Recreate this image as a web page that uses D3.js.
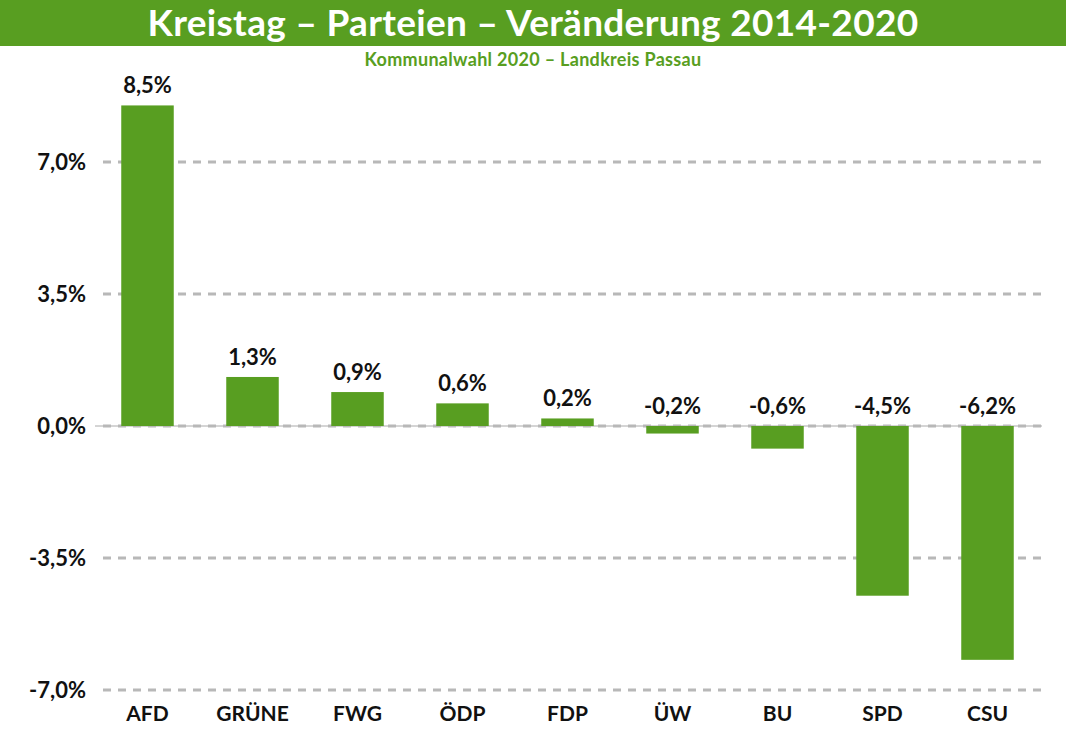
<!DOCTYPE html>
<html><head><meta charset="utf-8">
<script src="https://cdn.jsdelivr.net/npm/d3@7"></script>
<style>body{margin:0;background:#fff}svg{display:block;font-family:Lato,"Open Sans",sans-serif}</style>
</head><body><svg id="c" width="1066" height="736"></svg>
<script>
const categories = ["AFD","GRÜNE","FWG","ÖDP","FDP","ÜW","BU","SPD","CSU"];
const values = [8.5,1.3,0.9,0.6,0.2,-0.2,-0.6,-4.5,-6.2];
const tickValues = [-7,-3.5,0,3.5,7];
const title = "Kreistag – Parteien – Veränderung 2014-2020";
const subtitle = "Kommunalwahl 2020 – Landkreis Passau";

const green = "#589e21";
const svg = d3.select("#c");
const fmt = v => d3.format(".1f")(v).replace("\u2212", "-").replace(".", ",") + "%";

svg.append("rect").attr("x",0).attr("y",0).attr("width",1066).attr("height",46).attr("fill",green);
svg.append("text").attr("x",533).attr("y",36).attr("text-anchor","middle")
  .attr("fill","#fff").attr("font-size",37).attr("font-weight",700).attr("letter-spacing",0.3).text(title);
svg.append("text").attr("x",533).attr("y",66).attr("text-anchor","middle")
  .attr("fill",green).attr("font-size",18).attr("font-weight",700).attr("letter-spacing",0.3).text(subtitle);

const x = d3.scaleBand().domain(categories).range([95,1040]).paddingInner(0.5).paddingOuter(0.25);
const y = d3.scaleLinear().domain([-7,7]).range([690,162]);

// zero solid line
svg.append("line").attr("x1",95).attr("x2",1042).attr("y1",y(0)).attr("y2",y(0))
  .attr("stroke","#aaa").attr("stroke-width",1);
// gridlines
svg.append("g").selectAll("line").data(tickValues).join("line")
  .attr("x1",103).attr("x2",1042).attr("y1",d=>y(d)).attr("y2",d=>y(d))
  .attr("stroke","#b8b8b8").attr("stroke-width",3).attr("stroke-dasharray","8,7");

// y axis labels
const yAxis = d3.axisLeft(y).tickValues(tickValues).tickFormat(fmt).tickSize(0).tickPadding(0);
const gy = svg.append("g").attr("transform","translate(86,0)").call(yAxis);
gy.select(".domain").remove();
gy.selectAll("text").attr("font-size",22).attr("font-weight",700).attr("fill","#111")
  .attr("font-family","Lato,sans-serif").attr("dy","0.36em");

// bars
svg.append("g").selectAll("rect").data(values).join("rect")
  .attr("x",(d,i)=>x(categories[i])).attr("width",x.bandwidth())
  .attr("y",d=>y(Math.max(0,d))).attr("height",d=>Math.abs(y(d)-y(0)))
  .attr("fill",green);

// value labels
svg.append("g").selectAll("text").data(values).join("text")
  .attr("x",(d,i)=>x(categories[i])+x.bandwidth()/2)
  .attr("y",d=>y(Math.max(0,d))-12)
  .attr("text-anchor","middle").attr("font-size",22).attr("font-weight",700).attr("fill","#111")
  .text(fmt);

// x axis labels
const xAxis = d3.axisBottom(x).tickSize(0).tickPadding(0);
const gx = svg.append("g").attr("transform","translate(0,706)").call(xAxis);
gx.select(".domain").remove();
gx.selectAll("text").attr("font-size",21).attr("font-weight",700).attr("fill","#111")
  .attr("font-family","Lato,sans-serif").attr("dy","0.71em");
</script></body></html>
